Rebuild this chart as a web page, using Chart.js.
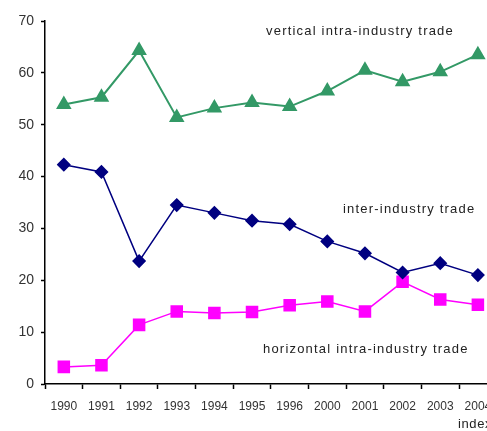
<!DOCTYPE html>
<html>
<head>
<meta charset="utf-8">
<script src="https://cdn.jsdelivr.net/npm/chart.js@4.4.0/dist/chart.umd.min.js"></script>
<style>
  html, body { margin: 0; padding: 0; background: #fff; overflow: hidden; }
  #wrap { width: 510px; height: 431px; }
</style>
</head>
<body>
<div id="wrap"><canvas id="tradeChart" width="506" height="431"></canvas></div>
<script>
/* years on the x axis (1997-1999 are missing in the source) */
const years = ['1990', '1991', '1992', '1993', '1994', '1995', '1996', '2000', '2001', '2002', '2003', '2004'];

/* shares in % */
const verticalIIT = [53.9, 55.3, 64.3, 51.4, 53.2, 54.3, 53.5, 56.5, 60.5, 58.3, 60.2, 63.5];
const interIndustry = [42.3, 40.9, 23.7, 34.5, 33.0, 31.5, 30.8, 27.5, 25.2, 21.5, 23.3, 21.0];
const horizontalIIT = [3.3, 3.6, 11.4, 14.0, 13.7, 13.9, 15.2, 15.9, 14.0, 19.7, 16.3, 15.3];

const seriesNames = ['vertical intra-industry trade', 'inter-industry trade', 'horizontal intra-industry trade'];

/* labels written inside the plot, next to each line */
const labelPlugin = {
  id: 'lineLabels',
  afterDraw(chart) {
    const ctx = chart.ctx;
    ctx.save();
    ctx.fillStyle = '#222';
    ctx.font = '13px "Liberation Sans", Arial, sans-serif';
    ctx.letterSpacing = '1.2px';
    ctx.textBaseline = 'middle';
    ctx.textAlign = 'left';
    ctx.fillText(seriesNames[0], 266, 31);
    ctx.fillText(seriesNames[1], 343, 209);
    ctx.fillText(seriesNames[2], 263, 349);
    ctx.letterSpacing = '0.6px';
    ctx.fillText('index', 458, 424);
    ctx.restore();
  }
};

const config = {
  type: 'line',
  data: {
    labels: years,
    datasets: [{
      label: seriesNames[0],
      data: verticalIIT,
      borderColor: '#339966',
      backgroundColor: '#339966',
      borderWidth: 2,
      pointStyle: 'triangle',
      pointRadius: 7,
      tension: 0
    }, {
      label: seriesNames[1],
      data: interIndustry,
      borderColor: '#000080',
      backgroundColor: '#000080',
      borderWidth: 1.5,
      pointStyle: 'rectRot',
      pointRadius: 6,
      tension: 0
    }, {
      label: seriesNames[2],
      data: horizontalIIT,
      borderColor: '#ff00ff',
      backgroundColor: '#ff00ff',
      borderWidth: 1.5,
      pointStyle: 'rect',
      pointRadius: 7.8,
      tension: 0
    }]
  },
  options: {
    responsive: false,
    animation: false,
    layout: { padding: { top: 21, left: 0, right: 1, bottom: 0 } },
    plugins: {
      legend: { display: false },
      tooltip: { enabled: false }
    },
    scales: {
      x: {
        offset: true,
        grid: { offset: true, drawOnChartArea: false, tickLength: 5, color: '#000', tickWidth: 1.5 },
        border: { color: '#000', width: 1.5 },
        ticks: { color: '#333', padding: 10, maxRotation: 0, autoSkip: false,
                 font: { family: '"Liberation Sans", Arial, sans-serif', size: 12 } },
        afterFit(scale) { scale.height = 47; }
      },
      y: {
        min: 0,
        max: 70,
        ticks: { stepSize: 10, color: '#333', padding: 7,
                 font: { family: '"Liberation Sans", Arial, sans-serif', size: 14 } },
        grid: { drawOnChartArea: false, tickLength: 4, color: '#000', tickWidth: 1.5 },
        border: { color: '#000', width: 1.5 },
        afterFit(scale) { scale.width = 45; }
      }
    }
  },
  plugins: [labelPlugin]
};

var tradeChart = new Chart(document.getElementById('tradeChart'), config);
</script>
</body>
</html>
